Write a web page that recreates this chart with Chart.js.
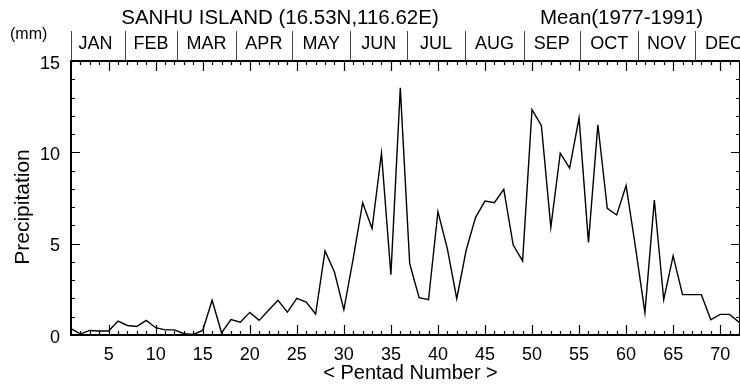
<!DOCTYPE html>
<html>
<head>
<meta charset="utf-8">
<title>SANHU ISLAND pentad precipitation</title>
<script src="https://cdn.jsdelivr.net/npm/chart.js@4/dist/chart.umd.min.js"></script>
<style>
  html, body { margin: 0; padding: 0; background: #fff; }
  canvas { display: block; }
</style>
</head>
<body>
<canvas id="chart" width="740" height="387"></canvas>
<script>
// Pentad numbers 1..72
const pentads = [
  1, 2, 3, 4, 5, 6, 7, 8, 9, 10, 11, 12, 13, 14, 15, 16, 17, 18,
  19, 20, 21, 22, 23, 24, 25, 26, 27, 28, 29, 30, 31, 32, 33, 34, 35, 36,
  37, 38, 39, 40, 41, 42, 43, 44, 45, 46, 47, 48, 49, 50, 51, 52, 53, 54,
  55, 56, 57, 58, 59, 60, 61, 62, 63, 64, 65, 66, 67, 68, 69, 70, 71, 72
];

// Mean pentad precipitation (mm), 1977-1991
const precipitation = [
  0.35, 0.05, 0.25, 0.22, 0.22, 0.76, 0.52, 0.47, 0.80, 0.40, 0.28, 0.28,
  0.07, 0.03, 0.25, 1.90, 0.12, 0.84, 0.70, 1.24, 0.80, 1.35, 1.90, 1.25,
  2.00, 1.80, 1.15, 4.60, 3.45, 1.38, 4.20, 7.24, 5.83, 9.95, 3.30, 13.53,
  3.90, 2.04, 1.93, 6.75, 4.73, 1.99, 4.64, 6.44, 7.33, 7.24, 7.97, 4.92,
  4.06, 12.34, 11.46, 5.89, 9.95, 9.13, 11.88, 5.07, 11.51, 6.93, 6.57, 8.18,
  4.80, 1.22, 7.39, 1.93, 4.33, 2.21, 2.21, 2.21, 0.83, 1.13, 1.13, 0.70
];

const monthNames = ['JAN', 'FEB', 'MAR', 'APR', 'MAY', 'JUN', 'JUL', 'AUG', 'SEP', 'OCT', 'NOV', 'DEC'];
const monthDays = [31, 28, 31, 30, 31, 30, 31, 31, 30, 31, 30, 31];

const xTickLabels = [5, 10, 15, 20, 25, 30, 35, 40, 45, 50, 55, 60, 65, 70];
const yTickLabels = [0, 5, 10, 15];

const titleText = 'SANHU ISLAND (16.53N,116.62E)';
const periodText = 'Mean(1977-1991)';
const unitText = '(mm)';
const yTitle = 'Precipitation';
const xTitle = '< Pentad Number >';

const FONT = "'Liberation Sans', Arial, Helvetica, sans-serif";

// Month boundaries in pentad units (pentad n spans n-0.5 .. n+0.5)
const monthEdges = [0.5];
monthDays.reduce((acc, d) => {
  const total = acc + d;
  monthEdges.push(total / 5 + 0.5);
  return total;
}, 0);

const framePlugin = {
  id: 'frame',
  afterDraw(chart) {
    const ctx = chart.ctx;
    const xs = chart.scales.x;
    const ys = chart.scales.y;
    const area = chart.chartArea;
    const L = area.left, R = area.right + 1, T = area.top, B = area.bottom;

    ctx.save();
    ctx.strokeStyle = '#000';
    ctx.fillStyle = '#000';

    // Frame
    ctx.lineWidth = 2;
    ctx.beginPath();
    ctx.moveTo(L, T); ctx.lineTo(L, B);
    ctx.moveTo(L - 1, B); ctx.lineTo(R + 1, B);
    ctx.moveTo(L - 1, T); ctx.lineTo(R + 1, T);
    ctx.moveTo(R, T); ctx.lineTo(R, B);
    ctx.stroke();

    // Pentad ticks on bottom and top, pointing inward
    ctx.lineWidth = 1.2;
    ctx.beginPath();
    for (let p = 1; p <= 72; p++) {
      const x = Math.round(xs.getPixelForValue(p)) + 0.5;
      const len = p % 5 === 0 ? 10 : 4;
      ctx.moveTo(x, B); ctx.lineTo(x, B - len);
      ctx.moveTo(x, T); ctx.lineTo(x, T + len);
    }
    // Precipitation ticks on left and right
    for (let v = 0; v <= 15; v++) {
      const y = Math.round(ys.getPixelForValue(v)) + 0.5;
      const len = v % 5 === 0 ? 9 : 4;
      ctx.moveTo(L, y); ctx.lineTo(L + len, y);
      ctx.moveTo(R, y); ctx.lineTo(R - len, y);
    }
    ctx.stroke();

    // Month band dividers above the plot
    ctx.strokeStyle = '#444';
    ctx.lineWidth = 1;
    ctx.beginPath();
    for (let i = 1; i < monthEdges.length - 1; i++) {
      const x = Math.round(xs.getPixelForValue(monthEdges[i])) + 0.5;
      ctx.moveTo(x, 31); ctx.lineTo(x, T);
    }
    ctx.moveTo(L + 0.5, 31); ctx.lineTo(L + 0.5, T);
    ctx.stroke();

    // Month names
    ctx.fillStyle = '#000';
    ctx.font = '18px ' + FONT;
    ctx.textAlign = 'center';
    ctx.textBaseline = 'alphabetic';
    monthNames.forEach((m, i) => {
      const c = (monthEdges[i] + monthEdges[i + 1]) / 2;
      ctx.fillText(m, xs.getPixelForValue(c), 48.5);
    });

    // X tick labels
    xTickLabels.forEach(v => {
      ctx.fillText(String(v), xs.getPixelForValue(v), 360);
    });

    // Y tick labels
    ctx.textAlign = 'right';
    yTickLabels.forEach(v => {
      ctx.fillText(String(v), 60, ys.getPixelForValue(v) + 7.5);
    });

    // Titles
    ctx.font = '20.5px ' + FONT;
    ctx.textAlign = 'center';
    ctx.fillText(titleText, 280, 24);
    ctx.textAlign = 'left';
    ctx.fillText(periodText, 540, 24);

    ctx.font = '20px ' + FONT;
    ctx.textAlign = 'center';
    ctx.fillText(xTitle, 410.5, 378.5);

    ctx.font = '16px ' + FONT;
    ctx.textAlign = 'left';
    ctx.fillText(unitText, 10, 39);

    ctx.save();
    ctx.font = '21px ' + FONT;
    ctx.translate(28.5, 207);
    ctx.rotate(-Math.PI / 2);
    ctx.textAlign = 'center';
    ctx.fillText(yTitle, 0, 0);
    ctx.restore();

    ctx.restore();
  }
};

new Chart(document.getElementById('chart'), {
  type: 'line',
  data: {
    labels: pentads,
    datasets: [{
      data: pentads.map((p, i) => ({ x: p, y: precipitation[i] })),
      borderColor: '#000',
      borderWidth: 1.4,
      pointRadius: 0,
      tension: 0,
      fill: false
    }]
  },
  options: {
    responsive: false,
    animation: false,
    devicePixelRatio: 1,
    layout: { padding: { left: 71, right: 1, top: 61, bottom: 52 } },
    plugins: { legend: { display: false }, tooltip: { enabled: false } },
    scales: {
      x: { type: 'linear', min: 1, max: 72, display: false },
      y: { type: 'linear', min: 0, max: 15, display: false }
    }
  },
  plugins: [framePlugin]
});
</script>
</body>
</html>
